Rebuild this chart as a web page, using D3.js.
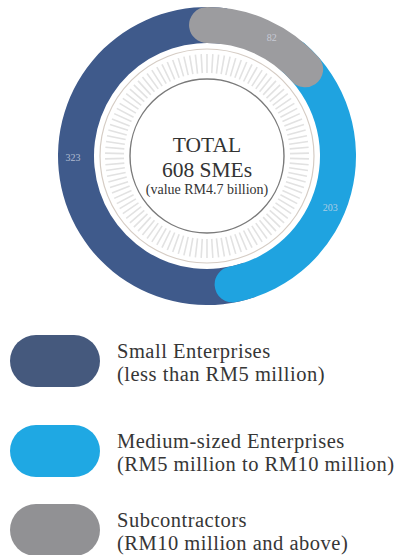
<!DOCTYPE html>
<html lang="en">
<head>
  <meta charset="UTF-8">
  <title>SMEs donut</title>
  <script src="https://d3js.org/d3.v7.min.js"></script>
  <style>
    body { margin: 0; background: #fff; }
    text { font-family: "Liberation Serif", "DejaVu Serif", serif; }
  </style>
</head>
<body>
  <div id="chart"></div>

  <script>
    // data
    const categories = ['Subcontractors', 'Medium-sized Enterprises', 'Small Enterprises'];
    const values = [82, 203, 323];
    const colors = ['#9c9c9f', '#1fa3e0', '#3f5a8b'];
    const legendLine1 = ['Small Enterprises', 'Medium-sized Enterprises', 'Subcontractors'];
    const legendLine2 = ['(less than RM5 million)', '(RM5 million to RM10 million)', '(RM10 million and above)'];
    const legendColors = ['#45597d', '#1fa8e3', '#919194'];
    const centerLines = ['TOTAL', '608 SMEs', '(value RM4.7 billion)'];

    const W = 411, H = 555;
    const cx = 207, cy = 156;
    const rOut = 149, rIn = 113;
    const cap = ((rOut - rIn) / 2) / ((rOut + rIn) / 2); // angle taken by a round end

    const svg = d3.select('#chart').append('svg')
      .attr('width', W).attr('height', H);

    const g = svg.append('g').attr('transform', `translate(${cx},${cy})`);

    const pie = d3.pie().sort(null).value(d => d)(values);
    const arc = d3.arc().innerRadius(rIn).outerRadius(rOut);
    const roundArc = d3.arc().innerRadius(rIn).outerRadius(rOut).cornerRadius((rOut - rIn) / 2);

    // small enterprises underneath, extended under the caps
    g.append('path')
      .attr('d', arc({ startAngle: pie[2].startAngle - cap, endAngle: pie[2].endAngle + cap }))
      .attr('fill', colors[2]);

    // medium, rounded end at the bottom
    g.append('path')
      .attr('d', roundArc({ startAngle: pie[1].startAngle - 2 * cap, endAngle: pie[1].endAngle + cap }))
      .attr('fill', colors[1]);

    // subcontractors on top, rounded both ends
    g.append('path')
      .attr('d', roundArc({ startAngle: pie[0].startAngle - cap, endAngle: pie[0].endAngle + cap }))
      .attr('fill', colors[0]);

    // value labels inside the ring
    const labelR = (rOut + rIn) / 2 + 3;
    const mid = d => (d.startAngle + d.endAngle) / 2 + 0.08;
    g.selectAll('.val')
      .data(pie)
      .enter().append('text')
      .attr('class', 'val')
      .attr('x', d => labelR * Math.sin(mid(d)))
      .attr('y', d => -labelR * Math.cos(mid(d)))
      .attr('text-anchor', 'middle')
      .attr('dominant-baseline', 'middle')
      .attr('font-size', 10)
      .attr('fill', '#d6dbe6')
      .attr('opacity', 0.75)
      .text(d => d.data);

    // decorative rings
    g.append('circle').attr('r', 107)
      .attr('fill', 'none').attr('stroke', '#d5ccc4').attr('stroke-width', 1.2);

    const ticks = d3.range(0, 2 * Math.PI, 2 * Math.PI / 110);
    g.selectAll('.tk')
      .data(ticks)
      .enter().append('line')
      .attr('class', 'tk')
      .attr('x1', a => 83 * Math.sin(a)).attr('y1', a => -83 * Math.cos(a))
      .attr('x2', a => 102 * Math.sin(a)).attr('y2', a => -102 * Math.cos(a))
      .attr('stroke', '#e2e2e2').attr('stroke-width', 1.6);

    g.append('circle').attr('r', 77)
      .attr('fill', '#fff').attr('stroke', '#7a7a7a').attr('stroke-width', 1.4);

    // centre text
    const cSizes = [21.5, 21.5, 14];
    const cY = [-4, 21, 38];
    g.selectAll('.ct')
      .data(centerLines)
      .enter().append('text')
      .attr('class', 'ct')
      .attr('text-anchor', 'middle')
      .attr('y', (d, i) => cY[i])
      .attr('font-size', (d, i) => cSizes[i])
      .attr('fill', '#333')
      .text(d => d);

    // legend
    const legY = [361, 451, 530];
    const leg = svg.selectAll('.leg')
      .data(legendLine1)
      .enter().append('g')
      .attr('class', 'leg')
      .attr('transform', (d, i) => `translate(10,${legY[i]})`);

    leg.append('rect')
      .attr('x', 0).attr('y', -26)
      .attr('width', 90).attr('height', 52)
      .attr('rx', 26).attr('ry', 26)
      .attr('fill', (d, i) => legendColors[i]);

    leg.append('text')
      .attr('x', 107).attr('y', -3)
      .attr('font-size', 20.5)
      .attr('letter-spacing', 0.5)
      .attr('fill', '#363636')
      .text(d => d);

    leg.append('text')
      .attr('x', 107).attr('y', 20)
      .attr('font-size', 20.5)
      .attr('letter-spacing', 0.5)
      .attr('fill', '#363636')
      .text((d, i) => legendLine2[i]);
  </script>
</body>
</html>
